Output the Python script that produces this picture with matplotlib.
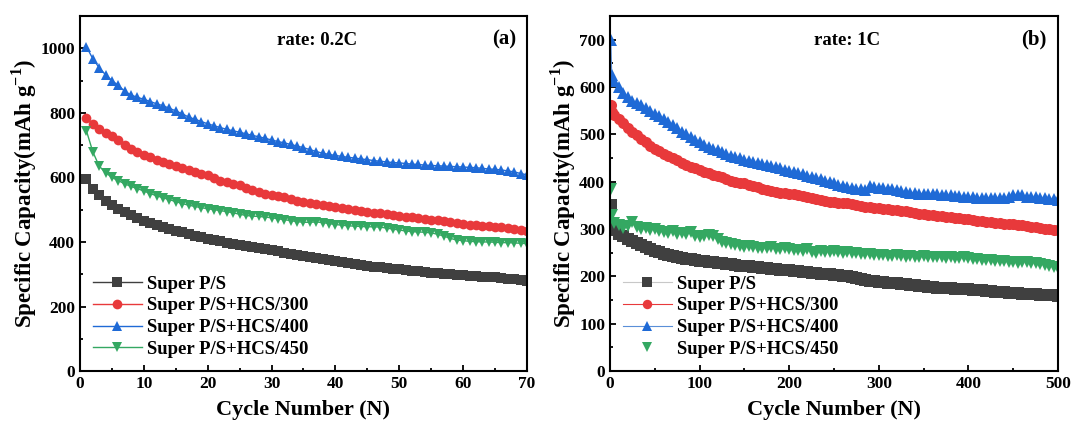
import numpy as np
import matplotlib
matplotlib.use("Agg")
import matplotlib.pyplot as plt
from matplotlib.ticker import MultipleLocator

plt.rcParams['font.family'] = ['Liberation Serif', 'DejaVu Serif']
plt.rcParams['font.weight'] = 'bold'
plt.rcParams['mathtext.fontset'] = 'custom'
plt.rcParams['mathtext.rm'] = 'Liberation Serif:bold'
plt.rcParams['mathtext.bf'] = 'Liberation Serif:bold'

labels = ['Super P/S', 'Super P/S+HCS/300', 'Super P/S+HCS/400', 'Super P/S+HCS/450']

# ---------------- panel (a): 0.2C, cycles 1..70 ----------------
cycles_a = list(range(1, 71))
sp_a = [595, 565, 545, 528, 515, 502, 492, 482, 473, 465,
        458, 451, 445, 440, 435, 430, 425, 420, 415, 410,
        406, 402, 398, 395, 392, 389, 385, 382, 378, 375,
        371, 367, 363, 359, 355, 352, 349, 346, 343, 340,
        337, 334, 331, 328, 325, 323, 321, 319, 317, 315,
        313, 311, 309, 307, 305, 303, 302, 300, 299, 298,
        296, 295, 293, 291, 290, 288, 286, 284, 282, 280]
hcs300_a = [785, 765, 750, 738, 728, 715, 700, 688, 678, 670,
            662, 655, 648, 641, 635, 628, 622, 618, 612, 606,
            598, 590, 585, 580, 575, 568, 561, 555, 550, 547,
            543, 538, 533, 528, 524, 520, 517, 514, 512, 509,
            505, 501, 498, 495, 493, 491, 489, 487, 484, 481,
            478, 476, 473, 471, 469, 467, 465, 462, 459, 456,
            454, 452, 450, 449, 447, 445, 443, 440, 437, 433]
hcs400_a = [1005, 968, 940, 918, 900, 885, 867, 855, 848, 842,
            835, 828, 822, 814, 806, 797, 787, 780, 773, 766,
            760, 754, 749, 744, 740, 735, 730, 726, 721, 716,
            711, 707, 702, 697, 692, 686, 680, 675, 671, 668,
            665, 662, 660, 657, 655, 652, 650, 648, 646, 645,
            643, 641, 640, 638, 637, 636, 635, 634, 633, 632,
            631, 630, 628, 626, 625, 623, 620, 617, 612, 608]
hcs450_a = [745, 680, 635, 615, 600, 590, 580, 572, 565, 558,
            550, 543, 537, 531, 525, 519, 514, 510, 506, 503,
            500, 497, 494, 490, 486, 482, 480, 479, 477, 475,
            472, 469, 466, 463, 461, 461, 462, 460, 457, 454,
            452, 450, 449, 448, 447, 447, 446, 443, 440, 437,
            434, 432, 431, 430, 428, 424, 418, 411, 406, 404,
            402, 401, 400, 400, 399, 398, 398, 397, 396, 395]

# ---------------- panel (b): 1C, cycles 1..500 (sampled) ----------------
cycles_b = [1, 2] + list(range(5, 501, 5))
sp_b = [350, 305, 298, 290, 285, 280, 275, 270, 266, 262,
        258, 254, 251, 248, 246, 243, 241, 239, 237, 236,
        234, 233, 232, 231, 230, 229, 228, 227, 226, 224,
        223, 222, 221, 220, 219, 218, 217, 216, 215, 214,
        213, 213, 212, 211, 210, 209, 208, 207, 206, 205,
        204, 203, 202, 201, 200, 199, 197, 195, 193, 191,
        190, 189, 188, 187, 186, 185, 184, 183, 182, 181,
        180, 179, 178, 177, 176, 176, 175, 175, 174, 174,
        173, 173, 172, 171, 171, 170, 169, 168, 167, 166,
        165, 165, 164, 163, 163, 162, 162, 161, 161, 160,
        160, 159]
hcs300_b = [562, 548, 540, 532, 523, 514, 506, 498, 490, 483,
            476, 470, 464, 459, 454, 449, 445, 440, 436, 432,
            428, 424, 421, 418, 415, 412, 409, 405, 401, 399,
            398, 397, 394, 391, 388, 385, 383, 381, 379, 377,
            376, 375, 373, 371, 369, 367, 366, 364, 362, 360,
            358, 357, 356, 355, 354, 353, 351, 349, 347, 346,
            345, 344, 343, 342, 341, 340, 339, 338, 336, 334,
            332, 331, 330, 329, 328, 327, 326, 325, 324, 323,
            322, 321, 320, 318, 316, 315, 314, 313, 312, 311,
            311, 310, 309, 308, 306, 305, 304, 302, 301, 300,
            299, 298]
hcs400_b = [700, 625, 612, 600, 588, 578, 570, 566, 562, 556,
            550, 544, 538, 532, 526, 520, 514, 506, 500, 494,
            488, 483, 478, 474, 470, 466, 462, 458, 455, 452,
            449, 446, 444, 442, 440, 438, 436, 433, 430, 428,
            425, 423, 420, 418, 416, 413, 410, 408, 405, 402,
            400, 397, 394, 391, 388, 386, 385, 384, 383, 390,
            388, 387, 386, 385, 384, 382, 380, 379, 377, 376,
            375, 375, 374, 373, 373, 372, 372, 371, 370, 369,
            368, 367, 367, 366, 366, 366, 366, 366, 365, 366,
            367, 371, 372, 371, 368, 368, 367, 366, 365, 364,
            363, 362]
hcs450_b = [385, 330, 312, 308, 302, 306, 314, 304, 300, 302,
            298, 300, 296, 294, 292, 295, 290, 292, 289, 293,
            286, 284, 286, 288, 285, 278, 272, 270, 268, 266,
            264, 263, 265, 262, 260, 261, 259, 262, 258, 257,
            259, 257, 255, 256, 253, 258, 252, 250, 253, 251,
            252, 254, 251, 250, 252, 249, 250, 248, 247, 248,
            246, 245, 246, 244, 243, 245, 243, 242, 244, 242,
            241, 243, 241, 240, 242, 240, 239, 241, 239, 238,
            240, 238, 236, 237, 235, 234, 235, 233, 232, 233,
            231, 230, 229, 230, 231, 228, 229, 226, 224, 222,
            220, 218]

colors = ['#404040', '#e8393b', '#1f6ad6', '#34a862']
markers = ['s', 'o', '^', 'v']

fig = plt.figure(figsize=(10.72, 4.32), dpi=100)
ax1 = fig.add_axes([0.0746, 0.141, 0.4170, 0.822])
ax2 = fig.add_axes([0.569, 0.141, 0.418, 0.822])

# panel (a)
for ys, c, m, lab in zip([sp_a, hcs300_a, hcs400_a, hcs450_a], colors, markers, labels):
    ax1.plot(cycles_a, ys, color=c, marker=m, markersize=7, lw=1.0,
             markeredgewidth=0, label=lab)

# panel (b): legend line colours differ in the original
line_cols_b = ['#c8c8c8', '#e8393b', '#5a8fd8', 'none']
for ys, c, lc, m, lab in zip([sp_b, hcs300_b, hcs400_b, hcs450_b], colors,
                             line_cols_b, markers, labels):
    ax2.plot(cycles_b, ys, color=lc, marker=m, markersize=8, lw=0.8,
             markerfacecolor=c, markeredgecolor=c, markeredgewidth=0,
             label=lab)

def style(ax, xmax, xmaj, xmin, ymax, ymaj, ymin, mscale):
    ax.set_xlim(0, xmax)
    ax.set_ylim(0, ymax)
    ax.xaxis.set_major_locator(MultipleLocator(xmaj))
    ax.xaxis.set_minor_locator(MultipleLocator(xmin))
    ax.yaxis.set_major_locator(MultipleLocator(ymaj))
    ax.yaxis.set_minor_locator(MultipleLocator(ymin))
    ax.tick_params(which='both', direction='in', width=1.3, labelsize=12.5)
    ax.tick_params(which='major', length=4)
    ax.tick_params(which='minor', length=2.5)
    for sp in ax.spines.values():
        sp.set_linewidth(1.5)
    for t in ax.get_xticklabels() + ax.get_yticklabels():
        t.set_fontweight('bold')
    ax.set_xlabel('Cycle Number (N)', fontsize=16, fontweight='bold', labelpad=6)
    ax.set_ylabel(r'Specific Capacity(mAh g$^{\mathbf{-1}}$)', fontsize=16.5,
                  fontweight='bold', labelpad=1)
    ax.legend(loc='lower left', bbox_to_anchor=(0.0, 0.0), frameon=False,
              handlelength=2.6, labelspacing=0.25, markerscale=mscale,
              handletextpad=0.3, borderaxespad=0.3,
              prop={'weight': 'bold', 'size': 13.5})

style(ax1, 70, 10, 5, 1100, 200, 100, 1.0)
style(ax2, 500, 100, 50, 750, 100, 50, 0.85)

ax1.text(0.53, 0.93, 'rate: 0.2C', transform=ax1.transAxes, ha='center',
         va='center', fontsize=13.5, fontweight='bold')
ax1.text(0.975, 0.935, '(a)', transform=ax1.transAxes, ha='right',
         va='center', fontsize=15, fontweight='bold')
ax2.text(0.53, 0.93, 'rate: 1C', transform=ax2.transAxes, ha='center',
         va='center', fontsize=13.5, fontweight='bold')
ax2.text(0.975, 0.935, '(b)', transform=ax2.transAxes, ha='right',
         va='center', fontsize=15, fontweight='bold')

fig.savefig('out.png', dpi=100)
